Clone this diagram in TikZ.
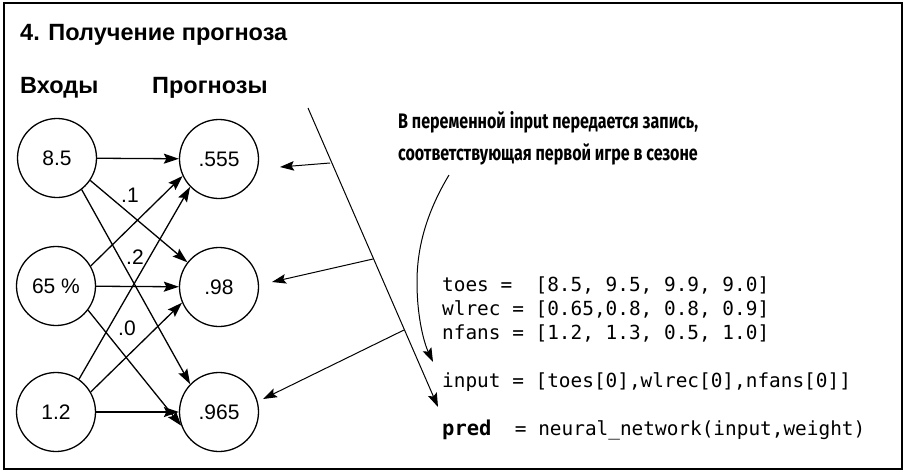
\documentclass[tikz,border=0pt]{standalone}
\usepackage{fontspec}
\setmainfont{Liberation Sans}
\newfontfamily\codefont{DejaVu Sans Mono}
\newfontfamily\annfont[FakeStretch=0.765]{Fira Sans}
\usetikzlibrary{arrows.meta}
\begin{document}
\begin{tikzpicture}[x=1pt,y=-1pt,
  neuron/.style={circle,draw,line width=1.3pt,minimum size=79pt,inner sep=0pt,font=\fontsize{21}{25}\selectfont},
  conn/.style={line width=1.3pt,-{Stealth[length=15pt,width=10pt,inset=2.5pt]}},
  thinconn/.style={line width=1pt,-{Stealth[length=14pt,width=9.5pt,inset=2.5pt]}},
  wlabel/.style={font=\fontsize{21}{25}\selectfont,inner sep=0pt},
  head/.style={anchor=base west,inner sep=0pt,font=\fontsize{23.5}{28}\selectfont\bfseries},
  code/.style={anchor=base west,inner sep=0pt,font=\fontsize{19.4}{23}\selectfont\codefont},
  ann/.style={anchor=base west,inner sep=0pt,font=\fontsize{21}{25}\selectfont\annfont\bfseries}]
\useasboundingbox (0,0) rectangle (905,472);
\draw[line width=1.8pt] (4,3) rectangle (902,469);

\node[head] (title) at (20,40) {4. Получение прогноза};
\node[head] (hin) at (20,93) {Входы};
\node[head] (hout) at (152,93) {Прогнозы};

\node[neuron] (i1) at (57,158) {8.5};
\node[neuron] (i2) at (56,286) {65 \%};
\node[neuron] (i3) at (56,412) {1.2};
\node[neuron] (o1) at (219,159) {.555};
\node[neuron] (o2) at (219,287) {.98};
\node[neuron] (o3) at (219,412) {.965};

\draw[conn] (i1) -- (o1);
\draw[conn] (i1.-34) -- (o2.142);
\draw[conn] (i1.-52) -- (o3.136);
\draw[conn] (i2.30) -- (o1.205);
\draw[conn] (i2) -- (o2);
\draw[conn] (i2.-37) -- (o3.200);
\draw[conn] (i3.55) -- (o1.224);
\draw[conn] (i3.30) -- (o2.203);
\draw[conn] (i3) -- (o3);

\node[wlabel] (w1) at (130,195) {.1};
\node[wlabel] (w2) at (135,257) {.2};
\node[wlabel] (w3) at (127,328) {.0};

\node[ann] (a1) at (398,128) {В переменной input передается запись,};
\node[ann] (a2) at (398,160) {соответствующая первой игре в сезоне};

\node[code] (c1) at (442,291) {toes =\ \ [8.5, 9.5, 9.9, 9.0]};
\node[code] (c2) at (442,315) {wlrec = [0.65,0.8, 0.8, 0.9]};
\node[code] (c3) at (442,339) {nfans = [1.2, 1.3, 0.5, 1.0]};
\node[code] (c4) at (442,387) {input = [toes[0],wlrec[0],nfans[0]]};
\node[code] (c5) at (442,435) {{\bfseries\fontsize{20.5}{23}\selectfont pred}\ \ = neural\_network(input,weight)};

\coordinate (ltop) at (308,108);
\coordinate (lbot) at (438,407);
\coordinate (b1) at (330,163);
\coordinate (b2) at (373,259);
\coordinate (b3) at (404,330);
\coordinate (t1) at (280,167);
\coordinate (t2) at (272,282);
\coordinate (t3) at (263,399);
\draw[thinconn] (ltop) -- (lbot);
\draw[thinconn] (b1) -- (t1);
\draw[thinconn] (b2) -- (t2);
\draw[thinconn] (b3) -- (t3);

\coordinate (cs) at (449,175);
\coordinate (cm) at (417,282);
\coordinate (ce) at (433,362);
\draw[thinconn] (cs) .. controls (425,215) and (417,250) .. (cm) .. controls (417,320) and (425,345) .. (ce);
\end{tikzpicture}
\end{document}
